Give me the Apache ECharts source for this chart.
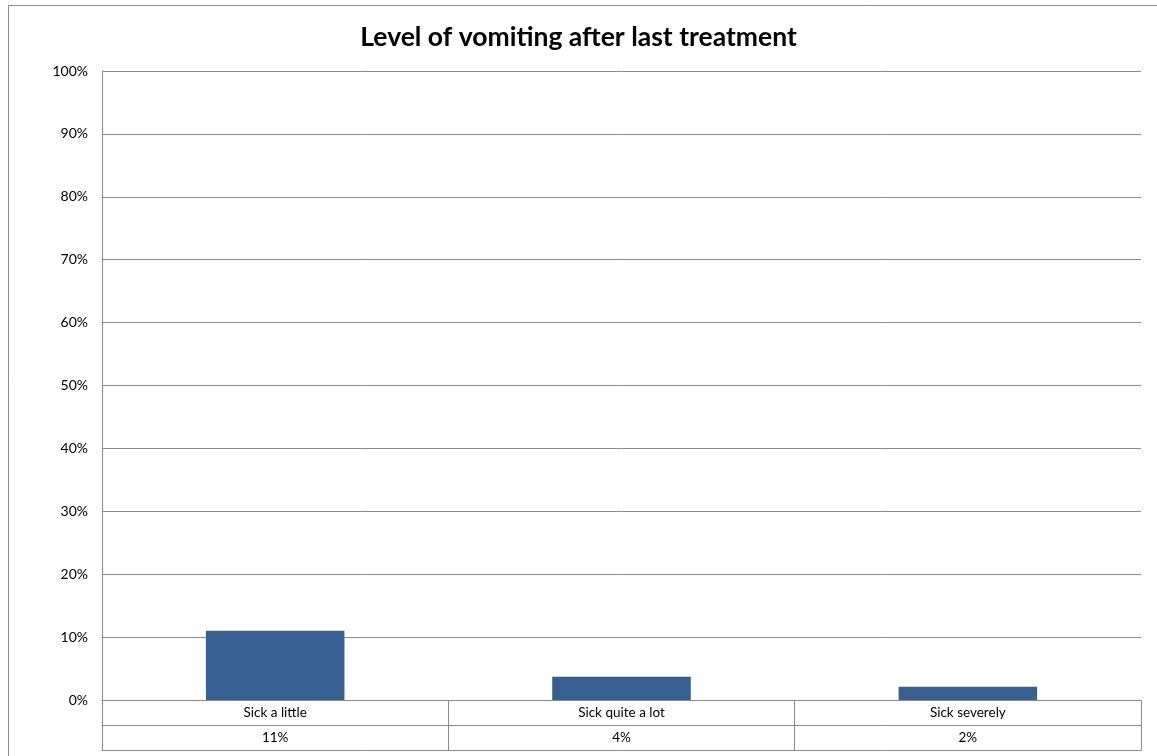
<!DOCTYPE html>
<html>
<head>
<meta charset="utf-8">
<script src="https://cdn.jsdelivr.net/npm/echarts@6/dist/echarts.min.js"></script>
<style>
  html, body { margin: 0; padding: 0; background: #ffffff; }
  #chart { width: 1157px; height: 756px; }
</style>
</head>
<body>
<div id="chart"></div>
<script>
// Share of patients by level of vomiting after the last treatment (percent)
const categories = ['Sick a little', 'Sick quite a lot', 'Sick severely'];
const values = [11, 3.7, 2.1];
const yTicks = { min: 0, max: 100, interval: 10 };

const GRID_COLOR = '#8a8a8a';
const FONT = 'Lato, "Liberation Sans", sans-serif';
const ROW_H = 25;

const chart = echarts.init(document.getElementById('chart'));

// Category / value rows of the data table under the plot, built from axes
const tableAxis = (offset, labels, showLine) => ({
  type: 'category',
  data: categories,
  position: 'bottom',
  offset: offset,
  boundaryGap: true,
  axisLine: { show: showLine, lineStyle: { color: GRID_COLOR, width: 1 } },
  axisTick: { show: labels !== null, length: ROW_H, interval: 0, lineStyle: { color: GRID_COLOR, width: 1 } },
  axisLabel: labels === null ? { show: false } : {
    show: true, interval: 0, margin: 6,
    color: '#000', fontFamily: FONT, fontSize: 13.5,
    formatter: (v, i) => labels[i]
  },
  splitLine: { show: false }
});

chart.setOption({
  animation: false,
  backgroundColor: '#ffffff',
  title: {
    text: 'Level of vomiting after last treatment',
    left: 'center',
    top: 19,
    textStyle: { fontFamily: FONT, fontSize: 26.5, fontWeight: 'bold', color: '#000' }
  },
  graphic: [{
    type: 'rect',
    shape: { x: 8.5, y: 5.5, width: 1170, height: 780 },
    style: { fill: null, stroke: '#8a8a8a', lineWidth: 1 },
    silent: true,
    z: -1
  }],
  grid: { left: 102, right: 16, top: 71, bottom: 56, containLabel: false },
  xAxis: [
    tableAxis(0, categories, true),
    tableAxis(ROW_H, values.map(v => Math.round(v) + '%'), true),
    tableAxis(ROW_H * 2, null, true)
  ],
  yAxis: {
    type: 'value',
    min: yTicks.min,
    max: yTicks.max,
    interval: yTicks.interval,
    axisLine: { show: true, lineStyle: { color: GRID_COLOR, width: 1 } },
    axisTick: { show: false },
    axisLabel: {
      margin: 14, color: '#000', fontFamily: FONT, fontSize: 14,
      padding: [7, 0, 0, 0],
      formatter: '{value}%'
    },
    splitLine: { show: true, lineStyle: { color: GRID_COLOR, width: 1 } }
  },
  series: [{
    type: 'bar',
    data: values,
    xAxisIndex: 0,
    barWidth: '40%',
    itemStyle: { color: '#366092' }
  }]
});
</script>
</body>
</html>
